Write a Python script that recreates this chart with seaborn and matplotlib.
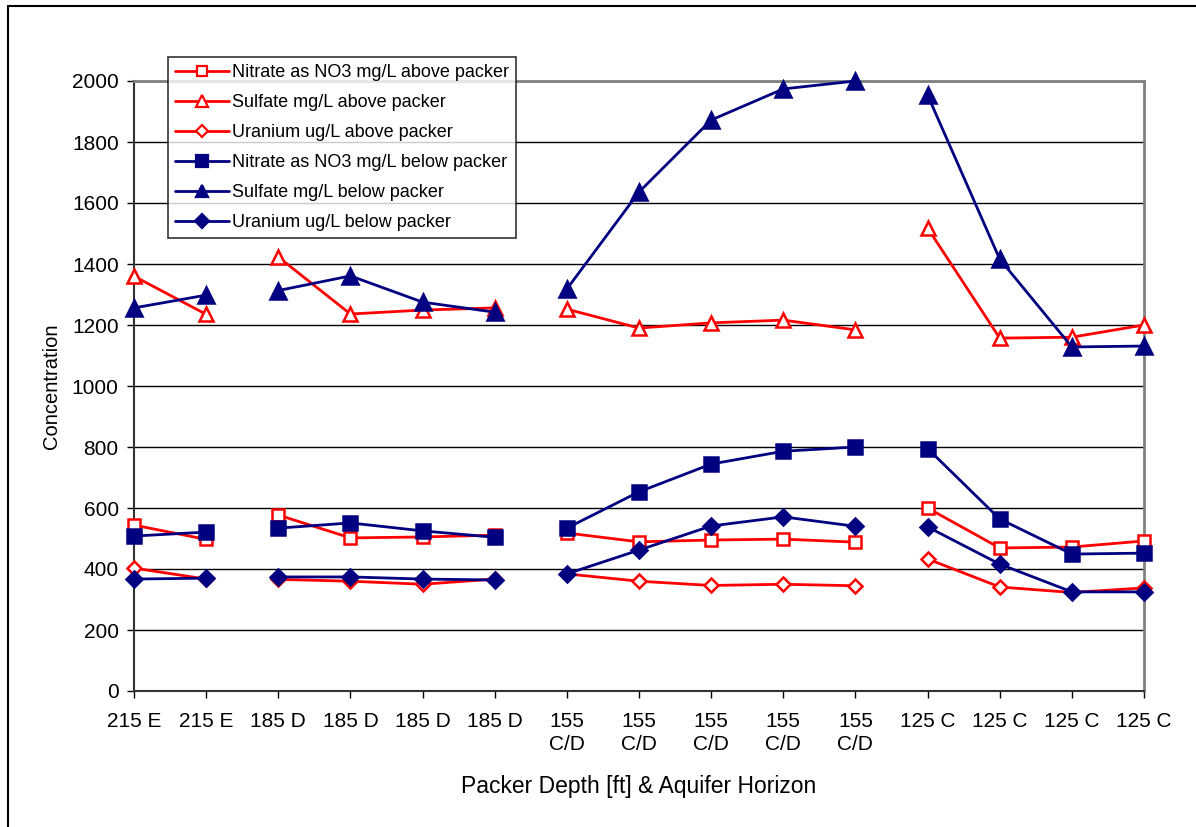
import numpy as np
import pandas as pd
import matplotlib
matplotlib.use("Agg")
import matplotlib.pyplot as plt
from matplotlib.lines import Line2D
import seaborn as sns

# Sampling positions along the profile (packer depth & aquifer horizon)
categories = ["215 E", "215 E", "185 D", "185 D", "185 D", "185 D",
              "155\nC/D", "155\nC/D", "155\nC/D", "155\nC/D", "155\nC/D",
              "125 C", "125 C", "125 C", "125 C"]
# Index ranges of each packer setting; lines are not joined across settings
groups = [(0, 2), (2, 6), (6, 11), (11, 15)]

nitrate_above = [544, 497, 577, 502, 505, 511, 518, 489, 495, 498, 488, 600, 469, 472, 492]
sulfate_above = [1360, 1235, 1423, 1236, 1249, 1256, 1252, 1190, 1207, 1216, 1184, 1518, 1157, 1160, 1200]
uranium_above = [403, 367, 366, 360, 350, 367, 384, 360, 346, 350, 345, 433, 341, 323, 338]
nitrate_below = [508, 521, 534, 551, 525, 504, 534, 653, 744, 786, 800, 795, 564, 449, 452]
sulfate_below = [1256, 1298, 1313, 1361, 1275, 1242, 1318, 1636, 1872, 1974, 2000, 1954, 1416, 1128, 1131]
uranium_below = [367, 370, 374, 374, 367, 364, 384, 462, 541, 571, 540, 538, 416, 325, 325]

series_names = ["Nitrate as NO3 mg/L above packer", "Sulfate mg/L above packer",
                "Uranium ug/L above packer", "Nitrate as NO3 mg/L below packer",
                "Sulfate mg/L below packer", "Uranium ug/L below packer"]
series_values = [nitrate_above, sulfate_above, uranium_above,
                 nitrate_below, sulfate_below, uranium_below]

RED = "#FF0000"
NAVY = "#000080"
styles = {
    series_names[0]: dict(color=RED, marker="s", mfc="white", ms=9),
    series_names[1]: dict(color=RED, marker="^", mfc="white", ms=10),
    series_names[2]: dict(color=RED, marker="D", mfc="white", ms=7),
    series_names[3]: dict(color=NAVY, marker="s", mfc=NAVY, ms=10),
    series_names[4]: dict(color=NAVY, marker="^", mfc=NAVY, ms=11),
    series_names[5]: dict(color=NAVY, marker="D", mfc=NAVY, ms=8),
}

rows = []
for name, vals in zip(series_names, series_values):
    for gi, (a, b) in enumerate(groups):
        for i in range(a, b):
            rows.append(dict(series=name, group=gi, pos=i, value=vals[i]))
df = pd.DataFrame(rows)

sns.set_theme(style="white")
plt.rcParams["font.family"] = ["Liberation Sans", "DejaVu Sans"]

W, H = 1196, 827
fig = plt.figure(figsize=(W / 100, H / 100), dpi=100)
L, R, B, T = 134, 1144, 691, 81
ax = fig.add_axes([L / W, 1 - B / H, (R - L) / W, (B - T) / H])

for name in series_names:
    st = styles[name]
    for gi in range(len(groups)):
        sub = df[(df.series == name) & (df.group == gi)]
        sns.lineplot(data=sub, x="pos", y="value", ax=ax, color=st["color"],
                     lw=2.0, marker=st["marker"], markersize=st["ms"],
                     markerfacecolor=st["mfc"], markeredgecolor=st["color"],
                     markeredgewidth=1.8, legend=False, sort=False, zorder=3,
                     clip_on=False)

ax.set_xlim(0, len(categories) - 1)
ax.set_ylim(0, 2000)
ax.set_yticks(np.arange(0, 2001, 200))
ax.set_xticks(range(len(categories)))
ax.set_xticklabels(categories, linespacing=1.3)
ax.tick_params(axis="both", labelsize=15, colors="black", length=5, width=1,
               direction="out", bottom=True, left=True)
ax.tick_params(axis="x", pad=10)
ax.tick_params(axis="y", pad=6)
ax.grid(axis="y", color="black", lw=1.0)
ax.grid(axis="x", visible=False)
ax.set_axisbelow(True)

for side in ["top", "right"]:
    ax.spines[side].set_color("#808080")
    ax.spines[side].set_linewidth(2)
for side in ["left", "bottom"]:
    ax.spines[side].set_color("#333333")
    ax.spines[side].set_linewidth(1.5)

ax.set_xlabel("Packer Depth [ft] & Aquifer Horizon", fontsize=16.5, labelpad=15,
              color="black")
ax.set_ylabel("Concentration", fontsize=14.5, labelpad=8, color="black")

handles = [Line2D([0], [0], color=styles[n]["color"], lw=2,
                  marker=styles[n]["marker"], markersize=styles[n]["ms"] * 0.85,
                  markerfacecolor=styles[n]["mfc"], markeredgecolor=styles[n]["color"],
                  markeredgewidth=1.6) for n in series_names]
leg = fig.legend(handles, series_names, loc="upper left",
                 bbox_to_anchor=(168 / W, 1 - 57 / H), fontsize=13,
                 frameon=True, fancybox=False, edgecolor="black",
                 handlelength=3.0, handletextpad=0.15, labelspacing=0.72,
                 borderpad=0.4, borderaxespad=0)
leg.get_frame().set_linewidth(1.2)
for t in leg.get_texts():
    t.set_color("black")

# Outer chart border (left and top edges)
fig.add_artist(Line2D([8 / W, 8 / W], [0, 1 - 6 / H], color="black", lw=1.5,
                      transform=fig.transFigure))
fig.add_artist(Line2D([8 / W, 1], [1 - 6 / H, 1 - 6 / H], color="black", lw=1.5,
                      transform=fig.transFigure))

fig.savefig("out.png", dpi=100, facecolor="white")
